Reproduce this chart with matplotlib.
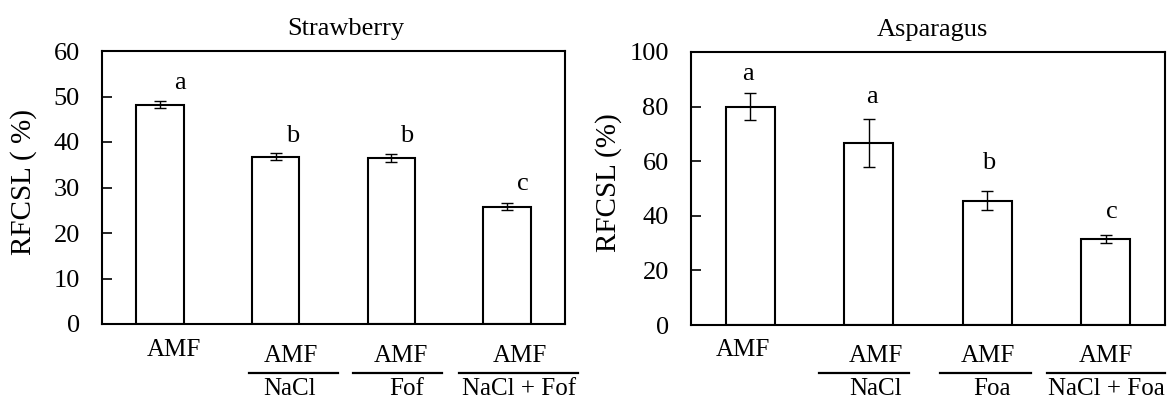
import matplotlib
matplotlib.use("Agg")
import matplotlib.pyplot as plt
from matplotlib.transforms import blended_transform_factory
from matplotlib.lines import Line2D

plt.rcParams["font.family"] = ["Liberation Serif", "DejaVu Serif"]

# Strawberry panel
straw_title = "Strawberry"
straw_values = [48.2, 36.8, 36.4, 25.8]
straw_errors = [0.75, 0.75, 0.9, 0.75]
straw_letters = ["a", "b", "b", "c"]
straw_treat = ["NaCl", "Fof", "NaCl + Fof"]
straw_ticks = [0, 10, 20, 30, 40, 50, 60]

# Asparagus panel
asp_title = "Asparagus"
asp_values = [80.0, 66.6, 45.5, 31.5]
asp_errors = [5.0, 8.8, 3.5, 1.6]
asp_letters = ["a", "a", "b", "c"]
asp_treat = ["NaCl", "Foa", "NaCl + Foa"]
asp_ticks = [0, 20, 40, 60, 80, 100]

W, H = 1174, 404
fig = plt.figure(figsize=(W / 100, H / 100), dpi=100)


def fy(py):
    return 1 - py / H


def panel(rect, title, title_x, values, errors, letters, treat, ticks,
          ylabel, label_x, letter_pos, letter_dx, amf_dx, line_hw, sub_dx):
    ax = fig.add_axes(rect)
    x = list(range(len(values)))
    ax.bar(x, values, width=0.41, color="white", edgecolor="black",
           linewidth=1.5, zorder=2)
    ax.errorbar(x, values, yerr=errors, fmt="none", ecolor="black",
                elinewidth=1.0, capsize=4.3, capthick=1.0, zorder=3)
    ax.set_xlim(-0.5, len(values) - 0.5)
    ax.set_ylim(ticks[0], ticks[-1])
    ax.set_yticks(ticks)
    ax.set_xticks([])
    ax.tick_params(axis="y", direction="in", length=7, width=1.2,
                   labelsize=19, pad=16)
    for s in ax.spines.values():
        s.set_linewidth(1.5)
    ax.set_ylabel(ylabel, fontsize=21)
    ax.yaxis.set_label_coords(label_x, 0.52)
    ax.text(title_x, 1.058, title, transform=ax.transAxes, ha="center",
            va="baseline", fontsize=19)
    for xi, lt, ly, dx in zip(x, letters, letter_pos, letter_dx):
        ax.text(xi + dx, ly, lt, ha="center", va="center", fontsize=19)

    tr = blended_transform_factory(ax.transData, fig.transFigure)
    # single-treatment label
    ax.text(0 + amf_dx[0], fy(350), "AMF", transform=tr, ha="center",
            va="center", fontsize=18, clip_on=False)
    # fraction-style labels: AMF over the added stress
    for i, name in enumerate(treat, start=1):
        ax.text(i + amf_dx[i], fy(356), "AMF", transform=tr,
                ha="center", va="center", fontsize=18, clip_on=False)
        c = i + sub_dx[i - 1][0]
        hw = line_hw[i - 1]
        ax.add_line(Line2D([c - hw, c + hw], [fy(373), fy(373)],
                           transform=tr, color="black", linewidth=1.6,
                           clip_on=False))
        ax.text(i + sub_dx[i - 1][1], fy(389), name, transform=tr,
                ha="center", va="center", fontsize=18, clip_on=False)
    return ax


# left panel: x 102..565, y 51..324 px
panel([102 / W, fy(324), (565 - 102) / W, (324 - 51) / H],
      straw_title, 0.526, straw_values, straw_errors, straw_letters,
      straw_treat, straw_ticks, "RFCSL ( %)", -0.140,
      [53.0, 41.3, 41.3, 30.7], [0.17, 0.15, 0.13, 0.14],
      [0.12, 0.13, 0.085, 0.11],
      [0.385, 0.385, 0.515],
      [(0.155, 0.12), (0.055, 0.13), (0.10, 0.105)])

# right panel: x 691..1165, y 52..325 px
panel([691 / W, fy(325), (1165 - 691) / W, (325 - 52) / H],
      asp_title, 0.51, asp_values, asp_errors, asp_letters, asp_treat,
      asp_ticks, "RFCSL (%)", -0.146,
      [91.8, 83.6, 59.4, 41.5], [-0.02, 0.03, 0.01, 0.05],
      [-0.06, 0.06, 0.01, 0.005],
      [0.38, 0.38, 0.50],
      [(-0.04, 0.06), (-0.015, 0.04), (0.0, 0.005)])

fig.savefig("out.png", dpi=100)
